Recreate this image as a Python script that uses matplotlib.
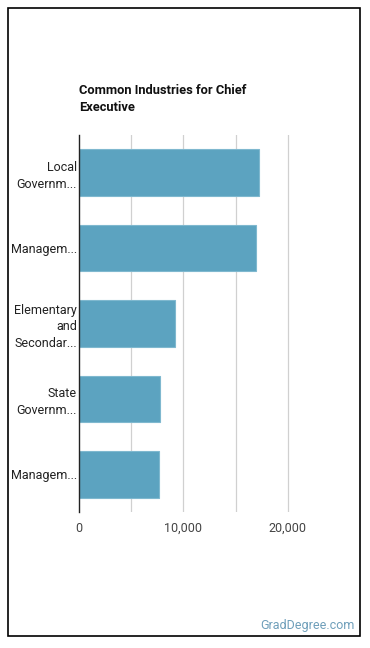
"""
Common industries for Chief Executive - horizontal bar chart
"""

import matplotlib
matplotlib.use('Agg')
import matplotlib.pyplot as plt
from matplotlib.patches import Rectangle

# data
industries = ['Local\nGovernm...', 'Managem...', 'Elementary\nand\nSecondar...',
              'State\nGovernm...', 'Managem...']
employees = [17250, 16970, 9215, 7780, 7625]
ticks = [0, 10000, 20000]
tick_labels = ['0', '10,000', '20,000']
grid_x = [5000, 10000, 15000, 20000]

plt.rcParams['font.family'] = ['Roboto', 'DejaVu Sans']

fig = plt.figure(figsize=(3.7, 6.48), dpi=100)

# outer border
fig.patches.append(Rectangle((8/370, 12/648), 352/370, 628/648, transform=fig.transFigure,
                             fill=False, edgecolor='black', linewidth=1.2))

ax = fig.add_axes([79/370, 136/648, 261/370, 377/648])
pos = list(range(len(industries)))
ax.barh(pos, employees, height=0.62, color='#5ca3c0', edgecolor='#7fb8cf', linewidth=0.8, zorder=3)
ax.set_ylim(len(industries) - 0.5, -0.5)
ax.set_xlim(0, 25000)

for gx in grid_x:
    ax.axvline(gx, color='#d0d0d0', linewidth=0.9, zorder=1)

ax.set_yticks(pos)
ax.set_yticklabels(industries, fontsize=9, color='#222222', linespacing=1.38)
ax.set_xticks(ticks)
ax.set_xticklabels(tick_labels, fontsize=9, color='#444444')
ax.tick_params(axis='y', length=0, pad=1.5)
ax.tick_params(axis='x', length=0, pad=7)

for s in ['top', 'right', 'bottom']:
    ax.spines[s].set_visible(False)
ax.spines['left'].set_color('#222222')
ax.spines['left'].set_linewidth(1.0)
ax.spines['left'].set_zorder(4)

fig.text(79/370, 1 - 99/648, 'Common Industries for Chief\nExecutive', fontsize=9.3,
         fontweight='bold', color='#111111', ha='left', va='center', linespacing=1.45)

fig.text(355/370, 1 - 626/648, 'GradDegree.com', fontsize=9, color='#6f9fba',
         ha='right', va='center')

fig.savefig('out.png', dpi=100)
